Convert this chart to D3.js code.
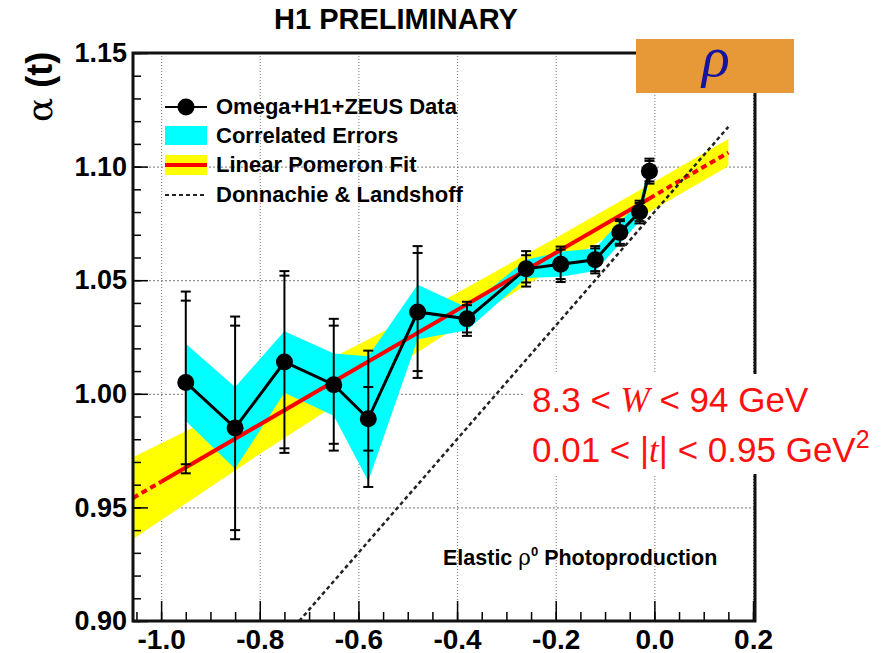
<!DOCTYPE html>
<html>
<head>
<meta charset="utf-8">
<script src="https://cdn.jsdelivr.net/npm/d3@7"></script>
<style>
    body { margin: 0; background: #fff; }
    svg { display: block; }
</style>
</head>
<body>
<svg id="chart" width="882" height="653"></svg>
<script>
// data points
var tValues     = [-0.95, -0.85, -0.75, -0.65, -0.58, -0.48, -0.38, -0.26, -0.19, -0.12, -0.07, -0.03, -0.01];
var alphaValues = [1.005, 0.985, 1.014, 1.004, 0.989, 1.036, 1.033, 1.055, 1.057, 1.059, 1.071, 1.080, 1.098];
var statErr     = [0.036, 0.045, 0.038, 0.026, 0.014, 0.026, 0.006, 0.006, 0.0065, 0.005, 0.005, 0.004, 0.0045];
var totalErr    = [0.040, 0.049, 0.040, 0.029, 0.030, 0.029, 0.0075, 0.0078, 0.0078, 0.006, 0.0058, 0.005, 0.0055];
var corrErr     = [0.017, 0.018, 0.0135, 0.0137, 0.0275, 0.012, 0.005, 0.004, 0.0055, 0.005, 0.005, 0.004, 0.003];

// linear pomeron fit (line) and its error band
var fitT       = [-1.057, -1.0, -0.01, 0.15];
var fitAlpha   = [0.9541, 0.9613, 1.0860, 1.1062];
var bandT      = [-1.057, -0.8, -0.6, -0.4, -0.2, 0.0, 0.15];
var bandCenter = [0.9541, 0.9865, 1.0117, 1.0369, 1.0621, 1.0873, 1.1062];
var bandHalf   = [0.018, 0.013, 0.010, 0.0075, 0.0065, 0.006, 0.006];

// Donnachie & Landshoff
var dlT     = [-0.72, 0.15];
var dlAlpha = [0.90, 1.1175];

var xMajorTicks = [-1.0, -0.8, -0.6, -0.4, -0.2, 0.0, 0.2];
var xMinorTicks = d3.range(-1.05, 0.2001, 0.05);
var yMajorTicks = [0.90, 0.95, 1.00, 1.05, 1.10, 1.15];
var yMinorTicks = d3.range(0.90, 1.1501, 0.01);

var legendLabels = ["Omega+H1+ZEUS Data", "Correlated Errors", "Linear Pomeron Fit", "Donnachie & Landshoff"];

var svg = d3.select("#chart");
var pLeft = 133, pRight = 755, pTop = 53, pBottom = 621;
var sansFont = "Liberation Sans, Arial, sans-serif";

var x = d3.scaleLinear().domain([-1.057, 0.204]).range([pLeft, pRight]);
var y = d3.scaleLinear().domain([0.90, 1.15]).range([pBottom, pTop]);

var points = tValues.map(function (t, i) {
    return {t: t, a: alphaValues[i], s: statErr[i], e: totalErr[i], c: corrErr[i]};
});

// grid
svg.append("g").attr("class", "grid")
    .attr("transform", "translate(0," + pBottom + ")")
    .call(d3.axisBottom(x).tickValues(xMajorTicks).tickSize(-(pBottom - pTop)).tickFormat(""))
    .call(function (g) {
        g.select(".domain").remove();
        g.selectAll("line").attr("stroke", "#777").attr("stroke-dasharray", "1,2");
    });
svg.append("g").attr("class", "grid")
    .attr("transform", "translate(" + pLeft + ",0)")
    .call(d3.axisLeft(y).tickValues([0.95, 1.00, 1.05, 1.10]).tickSize(-(pRight - pLeft)).tickFormat(""))
    .call(function (g) {
        g.select(".domain").remove();
        g.selectAll("line").attr("stroke", "#777").attr("stroke-dasharray", "2,2");
    });

// fit band (yellow)
var bandData = bandT.map(function (t, i) { return {t: t, c: bandCenter[i], h: bandHalf[i]}; });
svg.append("path")
    .datum(bandData)
    .attr("fill", "#ffff00")
    .attr("d", d3.area()
        .x(function (d) { return x(d.t); })
        .y0(function (d) { return y(d.c - d.h); })
        .y1(function (d) { return y(d.c + d.h); }));

// correlated errors (cyan)
svg.append("path")
    .datum(points)
    .attr("fill", "#00ffff")
    .attr("d", d3.area()
        .x(function (d) { return x(d.t); })
        .y0(function (d) { return y(d.a - d.c); })
        .y1(function (d) { return y(d.a + d.c); }));

// fit line: dotted outside the fitted range, solid inside
var fitPts = fitT.map(function (t, i) { return [x(t), y(fitAlpha[i])]; });
var line = d3.line();
svg.append("path").attr("d", line([fitPts[0], fitPts[1]]))
    .attr("stroke", "#ff0000").attr("stroke-width", 4).attr("fill", "none").attr("stroke-dasharray", "6,4");
svg.append("path").attr("d", line([fitPts[1], fitPts[2]]))
    .attr("stroke", "#ff0000").attr("stroke-width", 4).attr("fill", "none");
svg.append("path").attr("d", line([fitPts[2], fitPts[3]]))
    .attr("stroke", "#ff0000").attr("stroke-width", 4).attr("fill", "none").attr("stroke-dasharray", "6,4");

// Donnachie & Landshoff
svg.append("path")
    .attr("d", line(dlT.map(function (t, i) { return [x(t), y(dlAlpha[i])]; })))
    .attr("stroke", "#222").attr("stroke-width", 2.5).attr("fill", "none").attr("stroke-dasharray", "4,3");

// error bars
var eb = svg.append("g").attr("stroke", "#000").attr("stroke-width", 2);
points.forEach(function (d) {
    var cx = x(d.t);
    eb.append("line").attr("x1", cx).attr("x2", cx).attr("y1", y(d.a - d.e)).attr("y2", y(d.a + d.e));
    [d.a - d.e, d.a - d.s, d.a + d.s, d.a + d.e].forEach(function (v) {
        eb.append("line").attr("x1", cx - 5).attr("x2", cx + 5).attr("y1", y(v)).attr("y2", y(v));
    });
});

// data line + markers
svg.append("path").datum(points)
    .attr("d", d3.line().x(function (d) { return x(d.t); }).y(function (d) { return y(d.a); }))
    .attr("stroke", "#000").attr("stroke-width", 3).attr("fill", "none");
svg.selectAll("circle.pt").data(points).enter().append("circle")
    .attr("class", "pt")
    .attr("cx", function (d) { return x(d.t); })
    .attr("cy", function (d) { return y(d.a); })
    .attr("r", 8.5)
    .attr("fill", "#000");

// ticks and labels
var xMinor = svg.append("g").attr("transform", "translate(0," + pBottom + ")")
    .call(d3.axisBottom(x).tickValues(xMinorTicks).tickSize(-9).tickFormat(""));
var xMajor = svg.append("g").attr("transform", "translate(0," + pBottom + ")")
    .call(d3.axisBottom(x).tickValues(xMajorTicks).tickSize(-20).tickPadding(8)
        .tickFormat(function (d) { return d3.format(".1f")(d).replace("−", "-"); }));
xMajor.selectAll("text").attr("font-family", sansFont)
    .attr("font-weight", "bold").attr("font-size", 28).attr("fill", "#000");

var yMinor = svg.append("g").attr("transform", "translate(" + pLeft + ",0)")
    .call(d3.axisLeft(y).tickValues(yMinorTicks).tickSize(-8).tickFormat(""));
var yMajor = svg.append("g").attr("transform", "translate(" + pLeft + ",0)")
    .call(d3.axisLeft(y).tickValues(yMajorTicks).tickSize(-15).tickPadding(6)
        .tickFormat(d3.format(".2f")));
yMajor.selectAll("text").attr("font-family", sansFont)
    .attr("font-weight", "bold").attr("font-size", 27).attr("fill", "#000");

[xMinor, xMajor, yMinor, yMajor].forEach(function (g) {
    g.selectAll(".domain").remove();
    g.selectAll("line").attr("stroke", "#000").attr("stroke-width", 1.5);
});

// frame
svg.append("rect").attr("x", pLeft).attr("y", pTop).attr("width", pRight - pLeft).attr("height", pBottom - pTop)
    .attr("fill", "none").attr("stroke", "#111").attr("stroke-width", 3);

// y title
svg.append("text")
    .attr("transform", "translate(52,122) rotate(-90)")
    .attr("font-family", sansFont).attr("font-weight", "bold").attr("font-size", 36)
    .call(function (t) {
        t.append("tspan").attr("font-family", "DejaVu Serif, serif").attr("font-weight", "normal").text("α");
        t.append("tspan").text(" (t)");
    });

// title
svg.append("text").attr("x", 396).attr("y", 29).attr("text-anchor", "middle")
    .attr("font-family", sansFont).attr("font-weight", "bold").attr("font-size", 29)
    .text("H1 PRELIMINARY");

// legend
var lg = svg.append("g");
var rowY = [107, 136, 165, 195];
lg.append("line").attr("x1", 165).attr("x2", 207).attr("y1", rowY[0]).attr("y2", rowY[0])
    .attr("stroke", "#000").attr("stroke-width", 2);
lg.append("circle").attr("cx", 186).attr("cy", rowY[0]).attr("r", 8.5).attr("fill", "#000");
lg.append("rect").attr("x", 165).attr("y", rowY[1] - 10).attr("width", 42).attr("height", 19).attr("fill", "#00ffff");
lg.append("rect").attr("x", 165).attr("y", rowY[2] - 10).attr("width", 42).attr("height", 20).attr("fill", "#ffff00");
lg.append("line").attr("x1", 165).attr("x2", 207).attr("y1", rowY[2]).attr("y2", rowY[2])
    .attr("stroke", "#ff0000").attr("stroke-width", 4);
lg.append("line").attr("x1", 165).attr("x2", 207).attr("y1", rowY[3]).attr("y2", rowY[3])
    .attr("stroke", "#222").attr("stroke-width", 2).attr("stroke-dasharray", "4,3");
lg.selectAll("text").data(legendLabels).enter().append("text")
    .attr("x", 216)
    .attr("y", function (d, i) { return rowY[i] + 7; })
    .attr("font-family", sansFont).attr("font-weight", "bold").attr("font-size", 22)
    .text(function (d) { return d; });

// process label
svg.append("text").attr("x", 443).attr("y", 565)
    .attr("font-family", sansFont).attr("font-weight", "bold").attr("font-size", 21.5)
    .call(function (t) {
        t.append("tspan").text("Elastic ");
        t.append("tspan").attr("font-family", "DejaVu Serif, serif").attr("font-weight", "normal").text("ρ");
        t.append("tspan").attr("font-size", 13).attr("dy", -9).text("0");
        t.append("tspan").attr("dy", 9).text(" Photoproduction");
    });

// kinematic range, white background
svg.append("rect").attr("x", 525).attr("y", 374).attr("width", 357).attr("height", 100).attr("fill", "#fff");
var red = "#ff1010";
var kin = svg.append("g").attr("font-family", sansFont).attr("font-size", 35).attr("fill", red);
kin.append("text").attr("x", 532).attr("y", 412)
    .call(function (t) {
        t.append("tspan").text("8.3 < ");
        t.append("tspan").attr("font-family", "Liberation Serif, serif").attr("font-style", "italic").text("W");
        t.append("tspan").text(" < 94 GeV");
    });
kin.append("text").attr("x", 532).attr("y", 462)
    .call(function (t) {
        t.append("tspan").text("0.01 < |");
        t.append("tspan").attr("font-family", "Liberation Serif, serif").attr("font-style", "italic").text("t");
        t.append("tspan").text("| < 0.95 GeV");
        t.append("tspan").attr("font-size", 25).attr("dy", -14).text("2");
    });

// particle box
svg.append("rect").attr("x", 636).attr("y", 39).attr("width", 158).attr("height", 54).attr("fill", "#e69936");
svg.append("text").attr("x", 716).attr("y", 76).attr("text-anchor", "middle")
    .attr("font-family", "Liberation Serif, serif").attr("font-style", "italic").attr("font-size", 58)
    .attr("fill", "#1414a0").text("ρ");
</script>
</body>
</html>
